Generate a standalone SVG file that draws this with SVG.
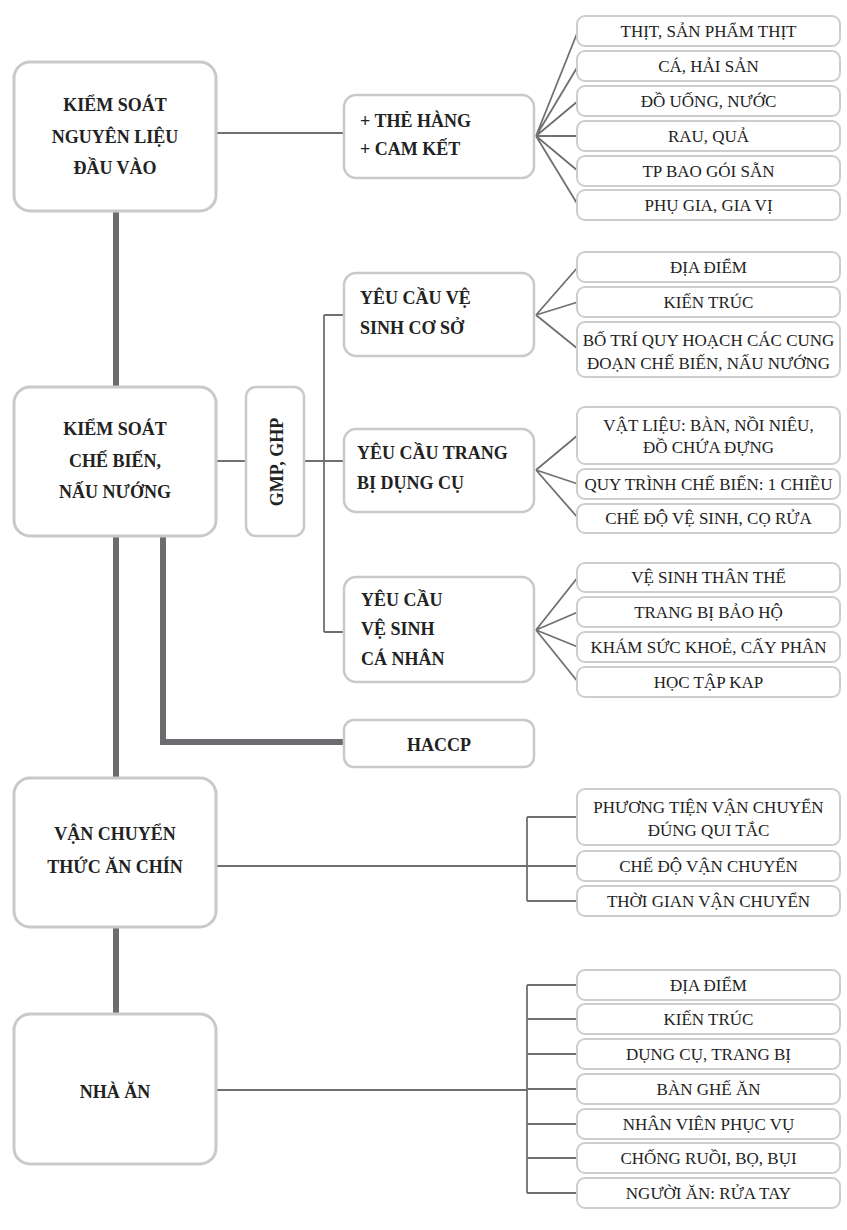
<svg xmlns="http://www.w3.org/2000/svg" width="847" height="1230" viewBox="0 0 847 1230">
<style>
.bg{fill:#fff}
.main{fill:#fff;stroke:#c9c9c9;stroke-width:3}
.mid{fill:#fff;stroke:#c9c9c9;stroke-width:2.5}
.leaf{fill:#fff;stroke:#cdcdcd;stroke-width:2}
.thick{fill:none;stroke:#6c6c70;stroke-width:6}
.thin{fill:none;stroke:#707070;stroke-width:1.8}
.b{font-family:'Liberation Serif','DejaVu Serif',serif;font-weight:bold;font-size:18px;fill:#222}
.c{text-anchor:middle}
.r{font-family:'Liberation Serif','DejaVu Serif',serif;font-size:17px;fill:#222;text-anchor:middle}
</style>
<rect class="bg" x="0" y="0" width="847" height="1230"/>
<g id="connectors">
<path class="thick" d="M116 211V387M116 536V778M116 927V1014M163 536V742H344"/>
<path class="thin" d="M216 133H344"/>
<path class="thin" d="M536 136L578 31M536 136L578 66M536 136L578 101M536 136L578 136M536 136L578 171M536 136L578 205"/>
<path class="thin" d="M216 461H246M304 461H344M324 315V632M324 315H344M324 632H344"/>
<path class="thin" d="M536 315L578 267M536 315L578 302M536 315L578 349"/>
<path class="thin" d="M536 470L578 435M536 470L578 484M536 470L578 518"/>
<path class="thin" d="M536 630L578 577M536 630L578 612M536 630L578 647M536 630L578 682"/>
<path class="thin" d="M216 866H527M527 817V901M527 817H577M527 866H577M527 901H577"/>
<path class="thin" d="M216 1090H527M527 985V1193M527 985H577M527 1019H577M527 1054H577M527 1089H577M527 1124H577M527 1158H577M527 1193H577"/>
</g>
<g id="n-nguyenlieu"><rect class="main" x="14" y="62" width="202" height="149" rx="16"/>
<text class="b c" x="115" y="111">KIỂM SOÁT</text><text class="b c" x="115" y="143">NGUYÊN LIỆU</text><text class="b c" x="115" y="174">ĐẦU VÀO</text></g>
<g id="n-thehang"><rect class="mid" x="344" y="95" width="190" height="83" rx="12"/>
<text class="b" x="360" y="127">+ THẺ HÀNG</text><text class="b" x="360" y="155">+ CAM KẾT</text></g>
<g id="l-thit"><rect class="leaf" x="577" y="16" width="263" height="30" rx="8"/><text class="r" x="708.5" y="37">THỊT, SẢN PHẨM THỊT</text></g>
<g id="l-ca"><rect class="leaf" x="577" y="51" width="263" height="30" rx="8"/><text class="r" x="708.5" y="72">CÁ, HẢI SẢN</text></g>
<g id="l-douong"><rect class="leaf" x="577" y="86" width="263" height="30" rx="8"/><text class="r" x="708.5" y="107">ĐỒ UỐNG, NƯỚC</text></g>
<g id="l-rau"><rect class="leaf" x="577" y="121" width="263" height="30" rx="8"/><text class="r" x="708.5" y="142">RAU, QUẢ</text></g>
<g id="l-tp"><rect class="leaf" x="577" y="156" width="263" height="30" rx="8"/><text class="r" x="708.5" y="177">TP BAO GÓI SẴN</text></g>
<g id="l-phugia"><rect class="leaf" x="577" y="190" width="263" height="30" rx="8"/><text class="r" x="708.5" y="211">PHỤ GIA, GIA VỊ</text></g>

<g id="n-chebien"><rect class="main" x="14" y="387" width="202" height="149" rx="16"/>
<text class="b c" x="115" y="435">KIỂM SOÁT</text><text class="b c" x="115" y="467">CHẾ BIẾN,</text><text class="b c" x="115" y="498">NẤU NƯỚNG</text></g>
<g id="n-gmp"><rect class="mid" x="246" y="387" width="58" height="149" rx="10"/>
<text class="b c" transform="translate(283 462) rotate(-90)" x="0" y="0">GMP, GHP</text></g>
<g id="n-coso"><rect class="mid" x="344" y="273" width="190" height="83" rx="12"/>
<text class="b" x="360" y="304">YÊU CẦU VỆ</text><text class="b" x="360" y="334">SINH CƠ SỞ</text></g>
<g id="l-diadiem1"><rect class="leaf" x="577" y="252" width="263" height="30" rx="8"/><text class="r" x="708.5" y="273">ĐỊA ĐIỂM</text></g>
<g id="l-kientruc1"><rect class="leaf" x="577" y="287" width="263" height="30" rx="8"/><text class="r" x="708.5" y="308">KIẾN TRÚC</text></g>
<g id="l-botri"><rect class="leaf" x="577" y="322" width="263" height="55" rx="8"/><text class="r" x="708.5" y="346">BỐ TRÍ QUY HOẠCH CÁC CUNG</text><text class="r" x="708.5" y="369">ĐOẠN CHẾ BIẾN, NẤU NƯỚNG</text></g>
<g id="n-trangbi"><rect class="mid" x="344" y="429" width="190" height="83" rx="12"/>
<text class="b" x="357" y="459">YÊU CẦU TRANG</text><text class="b" x="357" y="489">BỊ DỤNG CỤ</text></g>
<g id="l-vatlieu"><rect class="leaf" x="577" y="407" width="263" height="57" rx="8"/><text class="r" x="708.5" y="431">VẬT LIỆU: BÀN, NỒI NIÊU,</text><text class="r" x="708.5" y="453">ĐỒ CHỨA ĐỰNG</text></g>
<g id="l-quytrinh"><rect class="leaf" x="577" y="469" width="263" height="30" rx="8"/><text class="r" x="708.5" y="490">QUY TRÌNH CHẾ BIẾN: 1 CHIỀU</text></g>
<g id="l-chedovs"><rect class="leaf" x="577" y="504" width="263" height="29" rx="8"/><text class="r" x="708.5" y="524">CHẾ ĐỘ VỆ SINH, CỌ RỬA</text></g>
<g id="n-canhan"><rect class="mid" x="344" y="577" width="190" height="105" rx="12"/>
<text class="b" x="361" y="606">YÊU CẦU</text><text class="b" x="361" y="635">VỆ SINH</text><text class="b" x="361" y="665">CÁ NHÂN</text></g>
<g id="l-thanthe"><rect class="leaf" x="577" y="563" width="263" height="29" rx="8"/><text class="r" x="708.5" y="583">VỆ SINH THÂN THỂ</text></g>
<g id="l-baoho"><rect class="leaf" x="577" y="597" width="263" height="30" rx="8"/><text class="r" x="708.5" y="618">TRANG BỊ BẢO HỘ</text></g>
<g id="l-kham"><rect class="leaf" x="577" y="632" width="263" height="30" rx="8"/><text class="r" x="708.5" y="653">KHÁM SỨC KHOẺ, CẤY PHÂN</text></g>
<g id="l-kap"><rect class="leaf" x="577" y="667" width="263" height="30" rx="8"/><text class="r" x="708.5" y="688">HỌC TẬP KAP</text></g>
<g id="n-haccp"><rect class="mid" x="344" y="720" width="190" height="47" rx="10"/>
<text class="b c" x="439" y="751">HACCP</text></g>

<g id="n-vanchuyen"><rect class="main" x="14" y="778" width="202" height="149" rx="16"/>
<text class="b c" x="115" y="840">VẬN CHUYỂN</text><text class="b c" x="115" y="873">THỨC ĂN CHÍN</text></g>
<g id="l-phuongtien"><rect class="leaf" x="577" y="789" width="263" height="56" rx="8"/><text class="r" x="708.5" y="813">PHƯƠNG TIỆN VẬN CHUYỂN</text><text class="r" x="708.5" y="836">ĐÚNG QUI TẮC</text></g>
<g id="l-chedovc"><rect class="leaf" x="577" y="851" width="263" height="30" rx="8"/><text class="r" x="708.5" y="872">CHẾ ĐỘ VẬN CHUYỂN</text></g>
<g id="l-thoigian"><rect class="leaf" x="577" y="886" width="263" height="30" rx="8"/><text class="r" x="708.5" y="907">THỜI GIAN VẬN CHUYỂN</text></g>

<g id="n-nhaan"><rect class="main" x="14" y="1014" width="202" height="150" rx="16"/>
<text class="b c" x="115" y="1098">NHÀ ĂN</text></g>
<g id="l-diadiem2"><rect class="leaf" x="577" y="970" width="263" height="30" rx="8"/><text class="r" x="708.5" y="991">ĐỊA ĐIỂM</text></g>
<g id="l-kientruc2"><rect class="leaf" x="577" y="1004" width="263" height="30" rx="8"/><text class="r" x="708.5" y="1025">KIẾN TRÚC</text></g>
<g id="l-dungcu"><rect class="leaf" x="577" y="1039" width="263" height="30" rx="8"/><text class="r" x="708.5" y="1060">DỤNG CỤ, TRANG BỊ</text></g>
<g id="l-banghe"><rect class="leaf" x="577" y="1074" width="263" height="30" rx="8"/><text class="r" x="708.5" y="1095">BÀN GHẾ ĂN</text></g>
<g id="l-nhanvien"><rect class="leaf" x="577" y="1109" width="263" height="30" rx="8"/><text class="r" x="708.5" y="1130">NHÂN VIÊN PHỤC VỤ</text></g>
<g id="l-chongruoi"><rect class="leaf" x="577" y="1143" width="263" height="30" rx="8"/><text class="r" x="708.5" y="1164">CHỐNG RUỒI, BỌ, BỤI</text></g>
<g id="l-nguoian"><rect class="leaf" x="577" y="1178" width="263" height="30" rx="8"/><text class="r" x="708.5" y="1199">NGƯỜI ĂN: RỬA TAY</text></g>
</svg>
